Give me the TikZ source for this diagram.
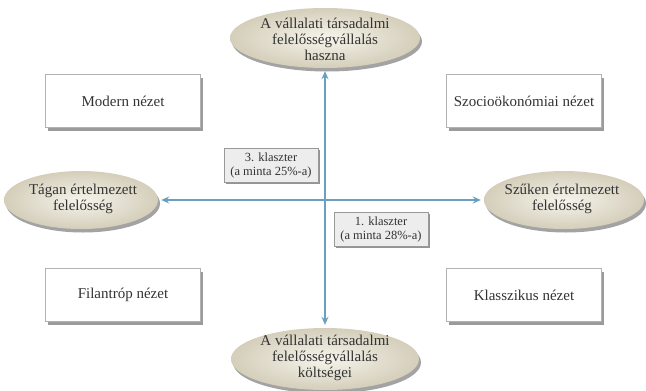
\documentclass[tikz,border=0pt]{standalone}
\usepackage{fontspec}
\setmainfont{Liberation Serif}
\usetikzlibrary{shapes.geometric,shadows,arrows.meta}
\definecolor{arrowblue}{RGB}{105,160,190}
\definecolor{beigein}{RGB}{246,244,236}
\definecolor{beigeout}{RGB}{212,206,186}
\tikzset{
  oval/.style={ellipse, inner sep=0pt, draw=none,
    inner color=beigein, outer color=beigeout,
    drop shadow={shadow xshift=2pt, shadow yshift=-3.5pt, opacity=0.45, fill=black!80}},
  txt/.style={align=center, font=\fontsize{15}{16}\selectfont, text=black!80},
  viewbox/.style={draw=black!30, fill=white, minimum width=155pt, minimum height=53pt,
    inner sep=0pt, font=\fontsize{15}{16}\selectfont, text=black!80,
    drop shadow={shadow xshift=2.5pt, shadow yshift=-3.5pt, opacity=0.6, fill=black!65}},
  clusterbox/.style={draw=black!40, fill=black!7, minimum width=94pt, minimum height=34pt,
    inner sep=0.5pt, align=center, font=\fontsize{12.5}{14}\selectfont, text=black!80,
    drop shadow={shadow xshift=2pt, shadow yshift=-1.5pt, opacity=0.6, fill=black!70}},
  axis/.style={draw=arrowblue, line width=1.4pt, shorten >=3pt, shorten <=3pt,
    {Stealth[length=8pt,width=7pt]}-{Stealth[length=8pt,width=7pt]}}
}
\begin{document}
\begin{tikzpicture}[x=1pt,y=-1pt]
\useasboundingbox (0,0) rectangle (646,391);
% ovals
\node[oval, minimum width=190pt, minimum height=60pt] (top) at (325,38) {};
\node[txt] at (325,39) {A vállalati társadalmi\\felelősségvállalás\\haszna};
\node[oval, minimum width=188pt, minimum height=62pt] (bot) at (325,359) {};
\node[txt] at (325,358) {A vállalati társadalmi\\felelősségvállalás\\költségei};
\node[oval, minimum width=154pt, minimum height=58pt] (left) at (81,200) {};
\node[txt] at (83,199) {Tágan értelmezett\\felelősség};
\node[oval, minimum width=160pt, minimum height=58pt] (right) at (564,200) {};
\node[txt] at (562,199) {Szűken értelmezett\\felelősség};
% arrows
\draw[axis] (top.south) -- (bot.north);
\draw[axis] (left.east) -- (right.west);
% view boxes
\node[viewbox] (modern) at (123,101) {Modern nézet};
\node[viewbox] (szocio) at (524,101) {Szocioökonómiai nézet};
\node[viewbox] (filan) at (123,295) {Filantróp nézet};
\node[viewbox] (klassz) at (524,295) {Klasszikus nézet};
% clusters
\node[clusterbox] (c3) at (271,165) {3. klaszter\\(a minta 25\%-a)};
\node[clusterbox] (c1) at (381,229) {1. klaszter\\(a minta 28\%-a)};
\end{tikzpicture}
\end{document}
